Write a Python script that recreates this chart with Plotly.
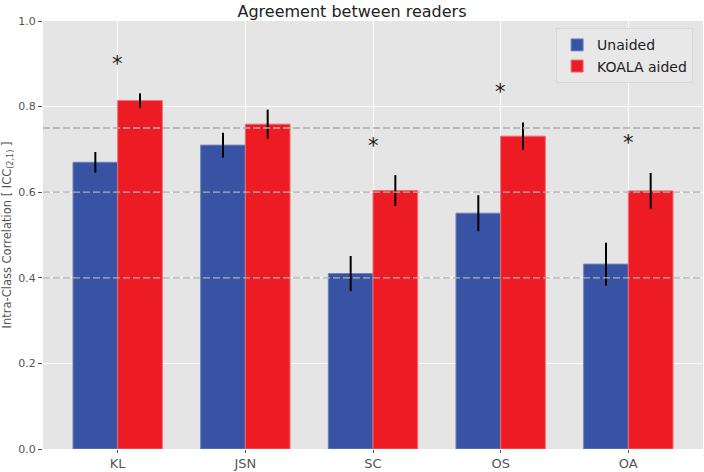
import plotly.graph_objects as go

# ICC(2,1) per feature, unaided vs KOALA aided
categories = ["KL", "JSN", "SC", "OS", "OA"]
unaided = [0.670, 0.710, 0.410, 0.551, 0.432]
unaided_err = [0.024, 0.029, 0.041, 0.042, 0.050]
aided = [0.814, 0.759, 0.604, 0.731, 0.603]
aided_err = [0.017, 0.034, 0.036, 0.032, 0.042]

# significance markers
sig_cats = ["KL", "SC", "OS", "OA"]
sig_y = [0.900, 0.709, 0.833, 0.714]

# reference levels (dashed)
ref_levels = [0.4, 0.6, 0.75]

BLUE = "#3953A4"
RED = "#ED1C24"
TICK_COLOR = "#555555"
FONT = "DejaVu Sans, sans-serif"

fig = go.Figure()
fig.add_trace(go.Bar(
    x=categories, y=unaided, name="Unaided",
    marker=dict(color=BLUE, line=dict(color="#6F82C0", width=1)),
    error_y=dict(type="data", array=unaided_err, color="black", thickness=2, width=0),
))
fig.add_trace(go.Bar(
    x=categories, y=aided, name="KOALA aided",
    marker=dict(color=RED, line=dict(color="#F26B70", width=1)),
    error_y=dict(type="data", array=aided_err, color="black", thickness=2, width=0),
))

for c, y in zip(sig_cats, sig_y):
    fig.add_annotation(x=c, y=y, text="*", showarrow=False,
                       font=dict(size=21, color="#1A1A1A", family=FONT),
                       yanchor="middle")

for lvl in ref_levels:
    fig.add_shape(type="line", xref="paper", x0=0, x1=1, y0=lvl, y1=lvl,
                  line=dict(color="#AFAFAF", width=1.3, dash="7px,3px"), layer="above")

fig.update_layout(
    width=704, height=472,
    paper_bgcolor="white", plot_bgcolor="#E5E5E5",
    font=dict(family=FONT, color=TICK_COLOR),
    title=dict(text="Agreement between readers", x=0.5, xanchor="center",
               y=0.975, yanchor="middle",
               font=dict(size=16, color="#222222", family=FONT)),
    margin=dict(l=43, r=1, t=21, b=23),
    barmode="group", bargap=0.3, bargroupgap=0,
    showlegend=True,
    legend=dict(x=0.985, y=0.983, xanchor="right", yanchor="top",
                bgcolor="#E8E8E8", bordercolor="#D8D8D8", borderwidth=1,
                tracegroupgap=0,
                font=dict(size=14, color="#222222", family=FONT)),
)
fig.update_xaxes(
    range=[-0.585, 4.585], showgrid=True, gridcolor="white", gridwidth=1,
    ticks="outside", ticklen=3, tickcolor=TICK_COLOR, automargin=False,
    ticklabelstandoff=-1,
    tickfont=dict(size=13, color=TICK_COLOR), zeroline=False,
)
fig.update_yaxes(
    range=[0, 1], dtick=0.2, tickformat=".1f", automargin=False,
    showgrid=True, gridcolor="white", gridwidth=1, zeroline=False,
    ticks="outside", ticklen=4, tickcolor=TICK_COLOR,
    tickfont=dict(size=11, color=TICK_COLOR),
    title=dict(text="Intra-Class Correlation [ ICC<sub>(2,1)</sub> ]",
               font=dict(size=11.5, color=TICK_COLOR), standoff=6),
)

fig.write_html("out.html", config={"displayModeBar": False},
               post_script="document.body.style.margin='0';")
